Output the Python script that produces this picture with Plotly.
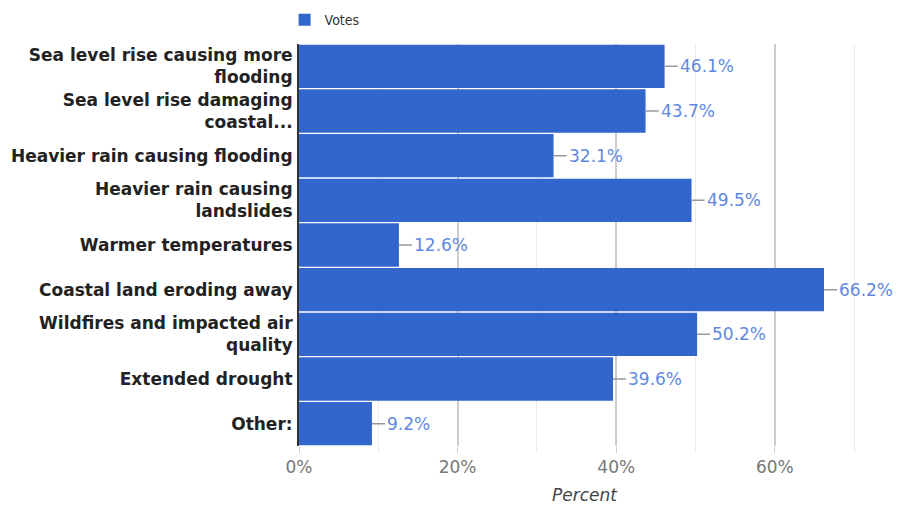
import plotly.graph_objects as go

categories = [
    "Sea level rise causing more<br>flooding",
    "Sea level rise damaging<br>coastal...",
    "Heavier rain causing flooding",
    "Heavier rain causing<br>landslides",
    "Warmer temperatures",
    "Coastal land eroding away",
    "Wildfires and impacted air<br>quality",
    "Extended drought",
    "Other:",
]
votes = [46.1, 43.7, 32.1, 49.5, 12.6, 66.2, 50.2, 39.6, 9.2]
labels = ["46.1%", "43.7%", "32.1%", "49.5%", "12.6%", "66.2%", "50.2%", "39.6%", "9.2%"]
tick_vals = [0, 20, 40, 60]
tick_text = ["0%", "20%", "40%", "60%"]

fig = go.Figure()
fig.add_trace(go.Bar(
    x=votes, y=categories, orientation="h", name="Votes",
    marker=dict(color="#3366cc", line=dict(width=0)),
    showlegend=True,
))

for v, c, t in zip(votes, categories, labels):
    fig.add_annotation(
        x=v, y=c, xref="x", yref="y", text=t,
        showarrow=True, arrowhead=0, arrowwidth=1.5, arrowcolor="#999999",
        ax=13, ay=0, xanchor="left", yanchor="middle",
        font=dict(family="DejaVu Sans", size=17, color="#6088e0"),
    )

fig.update_layout(
    width=901, height=508,
    margin=dict(l=291, r=39, t=36, b=70, autoexpand=False),
    paper_bgcolor="white", plot_bgcolor="white",
    bargap=0.03,
    font=dict(family="DejaVu Sans", color="#222222"),
    legend=dict(orientation="h", xref="container", yref="container",
                x=0.307, xanchor="left", y=0.976, yanchor="middle",
                font=dict(family="DejaVu Sans Condensed", size=14, color="#333333"), itemwidth=30),
    xaxis=dict(
        range=[0, 72], tickvals=tick_vals, ticktext=tick_text,
        showgrid=True, gridcolor="#cccccc", gridwidth=1.5,
        ticks="outside", ticklen=6, tickcolor="#cccccc",
        tickfont=dict(size=17, color="#777777"),
        zeroline=False, showline=False, automargin=False,
        minor=dict(dtick=10, tick0=0, showgrid=True, gridcolor="#ebebeb", gridwidth=1,
                   ticks="outside", ticklen=6, tickcolor="#ebebeb"),
        title=dict(text="<i>Percent</i>", font=dict(size=17, color="#444444"), standoff=12),
    ),
    yaxis=dict(
        autorange="reversed", automargin=False,
        showline=True, linecolor="#333333", linewidth=2,
        tickfont=dict(family="DejaVu Sans", size=17, color="#222222", weight="bold"),
        ticks="", ticklabelstandoff=1,
    ),
)

fig.write_html("out.html")
